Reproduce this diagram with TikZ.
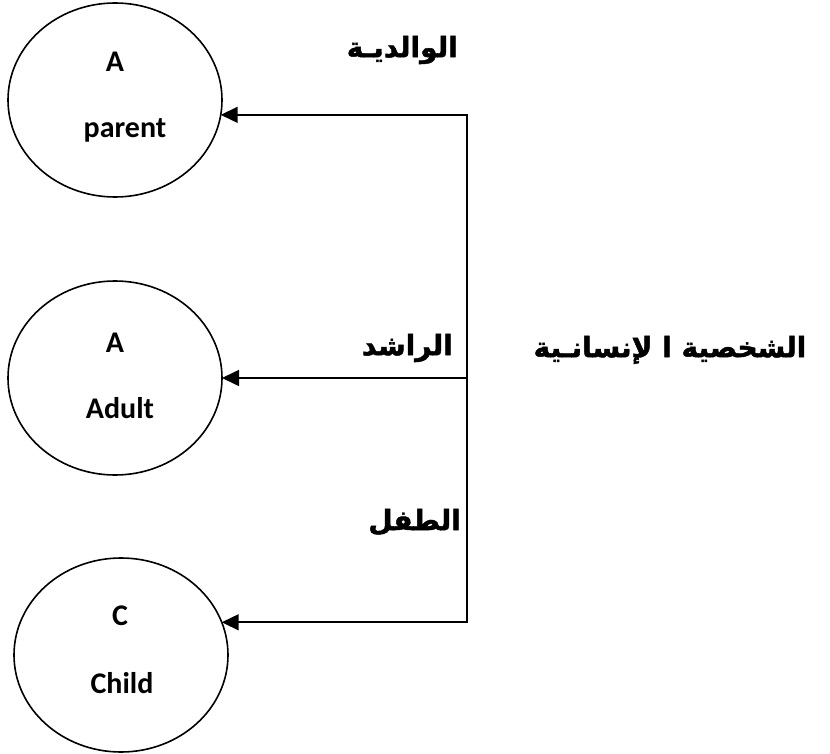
\documentclass[tikz,border=0pt]{standalone}
\usepackage{fontspec}
\setmainfont{Carlito}
\newfontfamily\arabicfont[Script=Arabic,BoldFeatures={FakeBold=1.6}]{DejaVu Sans}
\TeXXeTstate=1
\usetikzlibrary{shapes.geometric,arrows.meta}
\begin{document}
\begin{tikzpicture}[x=1pt,y=-1pt,
  role/.style={ellipse,draw,line width=1.6pt,minimum width=214pt,minimum height=194pt,
    inner sep=0pt,outer sep=0pt},
  rolelbl/.style={font=\fontsize{30}{32}\selectfont\bfseries,anchor=base,inner sep=0pt},
  arlbl/.style={font=\arabicfont\bfseries\fontsize{28}{32}\selectfont,inner sep=0pt},
  link/.style={line width=1.6pt,line join=miter},
  head/.tip={Triangle[length=17pt,width=16pt]},
  tip/.style={-head}]
\useasboundingbox (0,0) rectangle (830,754);

% the three ego states
\node[role] (parent) at (115,100) {};
\node[role] (adult)  at (115,378) {};
\node[role] (child)  at (121,655) {};

\node[rolelbl] (parentL1) at (115,72)  {A};
\node[rolelbl] (parentL2) at (125,138) {parent};
\node[rolelbl] (adultL1)  at (115,352) {A};
\node[rolelbl] (adultL2)  at (120,418) {Adult};
\node[rolelbl] (childL1)  at (120,625) {C};
\node[rolelbl] (childL2)  at (122,693) {Child};

% spine and branches
\coordinate (spineX) at (467,0);
\coordinate (jP) at (parent.-8.6 -| spineX);
\coordinate (jA) at (adult.0 -| spineX);
\coordinate (jC) at (child.18.7 -| spineX);

\draw[link,head-head] (parent.-8.6) -- (jP) -- (jC) -- (child.18.7);
\draw[link,tip] (jA) -- (adult.0);

% Arabic labels
\node[arlbl,anchor=east] (lblParent) at (458,50)  {\beginR الوالديـة\endR};
\node[arlbl,anchor=east] (lblAdult)  at (453,348) {\beginR الراشد\endR};
\node[arlbl,anchor=east] (lblChild)  at (461,522) {\beginR الطفل\endR};
\node[arlbl] (title) at (670,350) {\beginR الشخصية ا لإنسانـية\endR};
\end{tikzpicture}
\end{document}
